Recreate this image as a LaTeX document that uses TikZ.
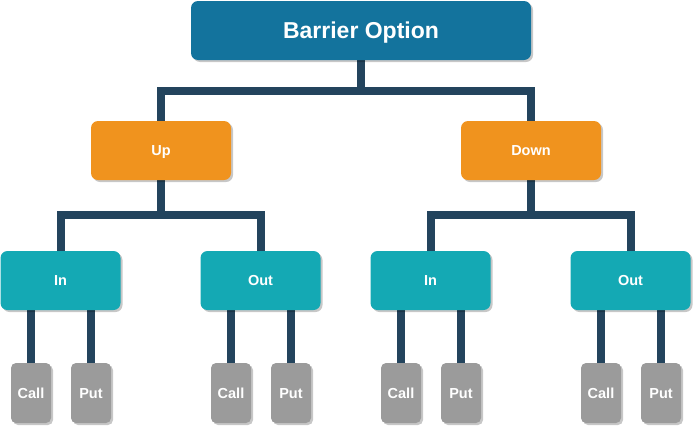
\documentclass[tikz,border=0pt]{standalone}
\usepackage{fontspec}
\setmainfont{Liberation Sans}
\usetikzlibrary{positioning, calc, shadows, backgrounds}
\definecolor{rootblue}{HTML}{13739D}
\definecolor{dirorange}{HTML}{F0931E}
\definecolor{kindteal}{HTML}{14A9B4}
\definecolor{leafgray}{HTML}{9B9B9B}
\definecolor{linkslate}{HTML}{23445D}
\tikzset{
  base/.style={
    rounded corners=7pt, inner sep=0pt, text=white,
    font=\bfseries\fontsize{14.5}{16}\selectfont,
    text height=10.4pt, text depth=0pt,
    drop shadow={shadow xshift=2pt, shadow yshift=-2pt,
                 fill=black, opacity=0.22},
  },
  rootbox/.style={base, fill=rootblue, minimum width=340pt, minimum height=59pt,
                  font=\bfseries\fontsize{23}{27}\selectfont, text height=16.5pt},
  dirbox/.style ={base, fill=dirorange, minimum width=140pt, minimum height=59pt},
  kindbox/.style={base, fill=kindteal, minimum width=120pt, minimum height=59pt},
  leafbox/.style={base, fill=leafgray, rounded corners=5pt,
                  minimum width=40pt, minimum height=60pt},
  link/.style   ={draw=linkslate, line width=8pt},
}
\begin{document}
\begin{tikzpicture}[x=1pt, y=1pt]
\useasboundingbox (0,0) rectangle (693,-426);

%% top level
\node[rootbox] (root) at (361,-30.5) {Barrier Option};

%% barrier direction
\node[dirbox] (up) at (161,-150.5) {Up};
\node[dirbox] (dn) at (531,-150.5) {Down};

%% knock in / out
\node[kindbox] (upin)  at (60.5,-280.5)  {In};
\node[kindbox] (upout) at (260.5,-280.5) {Out};
\node[kindbox] (dnin)  at (430.5,-280.5) {In};
\node[kindbox] (dnout) at (630.5,-280.5) {Out};

%% call / put leaves
\foreach \p/\x in {upin/31, upout/231, dnin/401, dnout/601} {
  \node[leafbox] (\p-call) at (\x,-393) {Call};
  \node[leafbox] (\p-put)  at (\x+60,-393) {Put};
}

%% connectors
\begin{pgfonlayer}{background}
  \coordinate (rj) at ($(root.south)+(0,-31)$);
  \draw[link] (root.south) -- (rj);
  \draw[link] (rj) -| (up.north);
  \draw[link] (rj) -| (dn.north);

  \coordinate (uj) at ($(up.south)+(0,-35)$);
  \draw[link] (up.south) -- (uj);
  \draw[link] (uj) -| (upin.north);
  \draw[link] (uj) -| (upout.north);

  \coordinate (dj) at ($(dn.south)+(0,-35)$);
  \draw[link] (dn.south) -- (dj);
  \draw[link] (dj) -| (dnin.north);
  \draw[link] (dj) -| (dnout.north);

  \foreach \p in {upin, upout, dnin, dnout} {
    \draw[link] (\p-call.north |- \p.south) -- (\p-call.north);
    \draw[link] (\p-put.north |- \p.south) -- (\p-put.north);
  }
\end{pgfonlayer}

\end{tikzpicture}
\end{document}
